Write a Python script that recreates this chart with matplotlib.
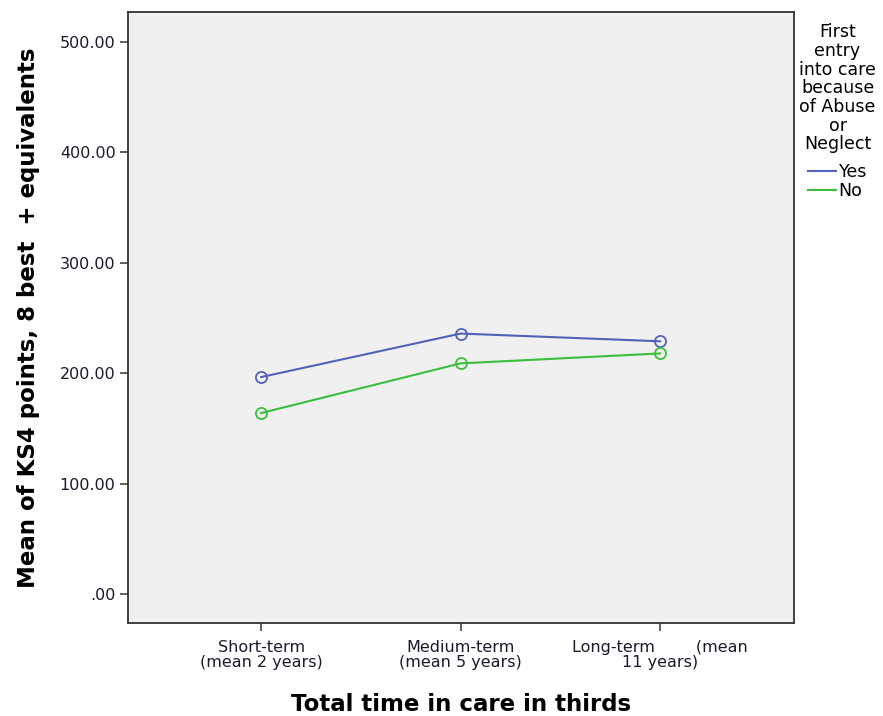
import matplotlib
matplotlib.use("Agg")
import matplotlib.pyplot as plt
from matplotlib.lines import Line2D

categories = ["Short-term\n(mean 2 years)", "Medium-term\n(mean 5 years)", "Long-term        (mean\n11 years)"]
yes_values = [196.6, 236.0, 229.0]
no_values = [164.0, 209.0, 218.0]
series_names = ["Yes", "No"]
yticks = [0, 100, 200, 300, 400, 500]
ytick_labels = [".00", "100.00", "200.00", "300.00", "400.00", "500.00"]

plt.rcParams['font.family'] = ['DejaVu Sans']

fig = plt.figure(figsize=(8.83, 7.16), dpi=100)
ax = fig.add_axes([0.145, 0.130, 0.754, 0.853])
ax.set_facecolor('#f0f0f0')

blue = '#5262b8'
green = '#3cbf3c'
x = list(range(len(categories)))
ax.plot(x, yes_values, color=blue, lw=1.5, marker='o', mfc='none', mec=blue, ms=8, mew=1.3)
ax.plot(x, no_values, color=green, lw=1.5, marker='o', mfc='none', mec=green, ms=8, mew=1.3)

ax.set_xlim(-0.667, 2.67)
ax.set_ylim(-26, 527)
ax.set_xticks(x)
ax.set_xticklabels(categories, fontsize=11.5, color='#1a1a2a', multialignment='center', linespacing=1.0)
ax.set_yticks(yticks)
ax.set_yticklabels(ytick_labels, fontsize=11.5, color='#1a1a2a')
ax.tick_params(axis='both', direction='out', length=6, width=1.2, color='#444444')
ax.tick_params(axis='x', pad=6)
ax.tick_params(axis='y', pad=3)
for s in ax.spines.values():
    s.set_color('#333333')
    s.set_linewidth(1.3)

ax.set_xlabel("Total time in care in thirds", fontsize=16.5, fontweight='bold', labelpad=17)
ax.set_ylabel("Mean of KS4 points, 8 best  + equivalents", fontsize=16.5, fontweight='bold', labelpad=14)

handles = [Line2D([0], [0], color=blue, lw=1.5), Line2D([0], [0], color=green, lw=1.5)]
leg = fig.legend(handles, series_names, title="First\nentry\ninto care\nbecause\nof Abuse\nor\nNeglect",
                 loc='upper left', bbox_to_anchor=(0.903, 0.97), frameon=False, fontsize=12.5,
                 title_fontsize=12.5, handlelength=1.6, handletextpad=0.15, labelspacing=0.05,
                 borderaxespad=0, borderpad=0.1)
leg.get_title().set_multialignment('center')
leg.get_title().set_linespacing(1.05)
leg._legend_box.sep = 7

fig.savefig("out.png", dpi=100)
